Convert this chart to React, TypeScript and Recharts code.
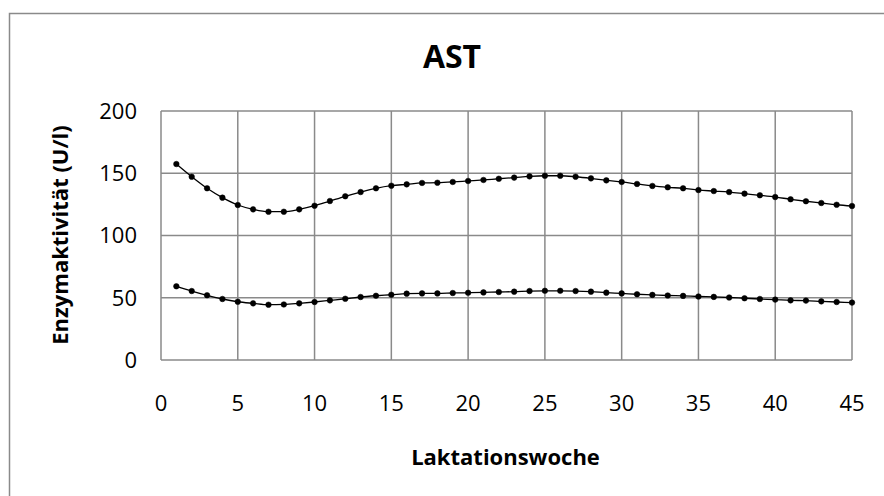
import { LineChart, Line, XAxis, YAxis, CartesianGrid } from "recharts";

const weeks = Array.from({ length: 45 }, (_, i) => i + 1);

const upper = [
  157.4, 147.2, 137.9, 130.4, 124.5, 121.0, 119.1, 119.1, 121.0, 123.9,
  127.7, 131.5, 134.9, 137.9, 140.0, 141.1, 142.2, 142.4, 143.0, 143.8,
  144.6, 145.6, 146.5, 147.5, 148.0, 148.0, 147.2, 145.9, 144.3, 143.0,
  141.4, 139.8, 138.7, 137.9, 136.5, 135.7, 134.9, 133.6, 132.3, 130.9,
  129.1, 127.5, 126.1, 124.7, 123.7,
];

const lower = [
  59.2, 55.4, 52.0, 49.0, 46.8, 45.5, 44.4, 44.6, 45.5, 46.6,
  47.9, 49.2, 50.6, 51.6, 52.4, 53.3, 53.5, 53.5, 53.8, 54.0,
  54.3, 54.6, 54.9, 55.4, 55.6, 55.6, 55.4, 54.9, 54.1, 53.5,
  52.8, 52.3, 51.8, 51.5, 51.0, 50.7, 50.2, 49.6, 49.0, 48.5,
  47.9, 47.7, 47.1, 46.6, 46.1,
];

const xTicks = [0, 5, 10, 15, 20, 25, 30, 35, 40, 45];
const yTicks = [0, 50, 100, 150, 200];

const data = weeks.map((w, i) => ({ week: w, upper: upper[i], lower: lower[i] }));

const font = "'Open Sans', sans-serif";
const gridGray = "#8a8a8a";

export default function App() {
  return (
    <div style={{ position: "absolute", left: 0, top: 0, width: 884, height: 496, background: "#fff" }}>
      <LineChart
        width={884}
        height={496}
        data={data}
        margin={{ top: 111, right: 32, bottom: 76, left: 81 }}
      >
        <CartesianGrid stroke={gridGray} strokeWidth={1.5} />
        <XAxis
          dataKey="week"
          type="number"
          domain={[0, 45]}
          ticks={xTicks}
          height={60}
          axisLine={false}
          tickLine={false}
          tickMargin={29}
          tick={{ fill: "#000", fontSize: 22, fontFamily: font }}
        />
        <YAxis
          type="number"
          domain={[0, 200]}
          ticks={yTicks}
          width={80}
          axisLine={false}
          tickLine={false}
          tickMargin={18}
          tick={{ fill: "#000", fontSize: 22, fontFamily: font }}
        />
        <Line
          dataKey="upper"
          type="monotone"
          stroke="#000"
          strokeWidth={1.3}
          dot={{ r: 2.8, fill: "#000", stroke: "#000", strokeWidth: 0.5 }}
          isAnimationActive={false}
        />
        <Line
          dataKey="lower"
          type="monotone"
          stroke="#000"
          strokeWidth={1.3}
          dot={{ r: 2.8, fill: "#000", stroke: "#000", strokeWidth: 0.5 }}
          isAnimationActive={false}
        />
      </LineChart>
      <svg
        width={884}
        height={496}
        style={{ position: "absolute", left: 0, top: 0, pointerEvents: "none" }}
      >
        <rect x={9.5} y={13.5} width={1000} height={1000} fill="none" stroke={gridGray} strokeWidth={1.5} />
        <text x={452} y={68} textAnchor="middle" fontFamily={font} fontWeight="bold" fontSize={32} fill="#000">
          AST
        </text>
        <text x={505.5} y={465} textAnchor="middle" fontFamily={font} fontWeight="bold" fontSize={22} fill="#000">
          Laktationswoche
        </text>
        <text
          x={68}
          y={235}
          textAnchor="middle"
          transform="rotate(-90 68 235)"
          fontFamily={font}
          fontWeight="bold"
          fontSize={22}
          fill="#000"
        >
          Enzymaktivität (U/l)
        </text>
      </svg>
    </div>
  );
}
